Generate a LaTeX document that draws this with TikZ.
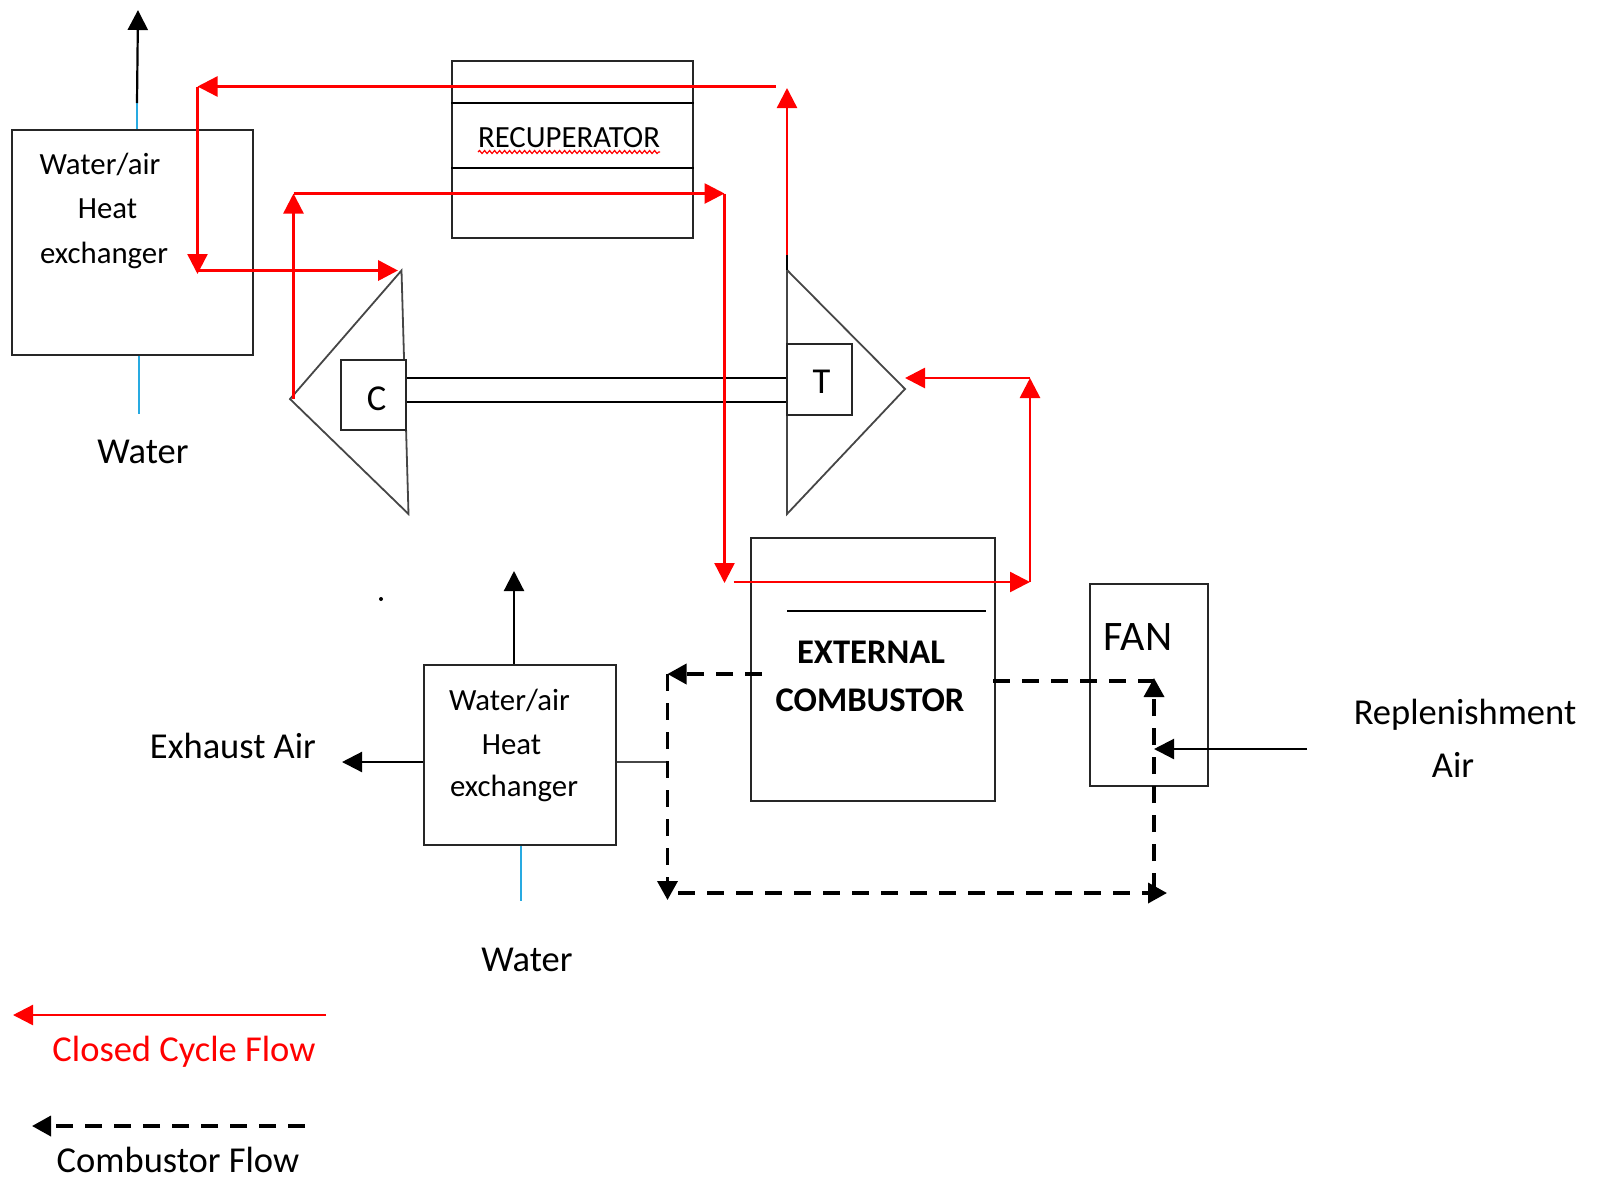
\documentclass[tikz,border=0pt]{standalone}
\usepackage{fontspec}
\setmainfont{Carlito}
\usetikzlibrary{arrows.meta, decorations.pathmorphing}
\definecolor{cycleRed}{RGB}{255, 0, 0}
\definecolor{waterBlue}{RGB}{40, 170, 225}
\definecolor{shaftGray}{RGB}{70, 70, 70}
\tikzstyle{box} = [draw=black!85, line width=2pt, inner sep=0pt, fill=white]
\tikzstyle{label} = [inner sep=0pt, font=\fontsize{30.8}{36}\selectfont]
\tikzstyle{biglabel} = [inner sep=0pt, font=\fontsize{36.5}{42}\selectfont]
\tikzstyle{boldlabel} = [inner sep=0pt, font=\fontsize{34.6}{40}\selectfont\bfseries]
\tikzstyle{redflow} = [line width=2.4pt, cycleRed, -{Triangle[length=20pt,width=20pt]}]
\tikzstyle{dashflow} = [line width=3.6pt, black, dash pattern=on 17pt off 12pt, -{Triangle[length=19pt,width=20pt]}]
\tikzstyle{blackflow} = [line width=2.2pt, black, -{Triangle[length=20pt,width=20pt]}]
\tikzstyle{waterline} = [line width=1.8pt, waterBlue]
\tikzstyle{plainline} = [line width=1.8pt, shaftGray]

\begin{document}
\begin{tikzpicture}[x=1pt, y=-1pt]
\useasboundingbox (0,0) rectangle (1598,1179);

% Machines
\coordinate (compInlet) at (401.5,270.5);
\coordinate (compNose) at (290,399);
\coordinate (compFoot) at (408.5,514);
\coordinate (turbTop) at (787,270);
\coordinate (turbNose) at (905,389);
\coordinate (turbFoot) at (787,514);
\draw[plainline] (compInlet) -- (compNose) -- (compFoot) -- cycle;
\draw[plainline] (turbTop) -- (turbNose) -- (turbFoot) -- cycle;
\node[box, minimum width=65pt, minimum height=70pt] (compBox) at (373.5,395) {};
\node[biglabel] (compLabel) at (376.5,399) {C};
\node[box, minimum width=65pt, minimum height=71pt] (turbBox) at (819.5,379.5) {};
\node[biglabel] (turbLabel) at (821.5,382) {T};
\draw[line width=2pt] (compBox.east |- 0,377.5) -- (turbBox.west |- 0,377.5);
\draw[line width=2pt] (compBox.east |- 0,402) -- (turbBox.west |- 0,402);

% Boxes
\node[box, minimum width=240.5pt, minimum height=224.5pt] (hxTop) at (132.25,242.25) {};
\node[label] (hxTopA) at (100,164) {Water/air};
\node[label] (hxTopB) at (107.5,209) {Heat};
\node[label] (hxTopC) at (104,255) {exchanger};
\node[box, minimum width=240.5pt, minimum height=177.5pt] (recup) at (572.25,149.25) {};
\draw[line width=2pt] (recup.west |- 0,103) -- (recup.east |- 0,103);
\draw[line width=2pt] (recup.west |- 0,168) -- (recup.east |- 0,168);
\node[label] (recupLabel) at (569,137.5) {RECUPERATOR};
\draw[cycleRed, line width=1.2pt, decorate, decoration={snake, segment length=5pt, amplitude=1.5pt}] (478,152) -- (660,152);
\node[box, minimum width=244pt, minimum height=263pt] (combustor) at (873,669.5) {};
\draw[line width=1.8pt] (787,611) -- (986,611);
\node[boldlabel] (combA) at (871,652) {EXTERNAL};
\node[boldlabel] (combB) at (870,700) {COMBUSTOR};
\node[box, minimum width=117.5pt, minimum height=202pt] (fan) at (1148.75,685) {};
\node[font=\fontsize{42}{48}\selectfont, inner sep=0pt] (fanLabel) at (1138,637) {FAN};
\node[box, minimum width=191.5pt, minimum height=180.5pt] (hxLow) at (519.75,754.75) {};
\node[label] (hxLowA) at (509.5,700) {Water/air};
\node[label] (hxLowB) at (511.5,745) {Heat};
\node[label] (hxLowC) at (514,788.5) {exchanger};

% Labels
\node[biglabel] (waterTop) at (143,452) {Water};
\node[biglabel] (waterLow) at (527,960) {Water};
\node[biglabel] (exhaust) at (233,746) {Exhaust Air};
\node[biglabel] (replenA) at (1465,715) {Replenishment};
\node[biglabel] (replenB) at (1453,765) {Air};
\node[biglabel, text=cycleRed] (legendRed) at (184,1052) {Closed Cycle Flow};
\node[biglabel] (legendDash) at (178,1160) {Combustor Flow};
\fill (381,599) circle (2pt);

% Water and air lines
\coordinate (topStub) at (137,103);
\coordinate (topTip) at (138,10);
\coordinate (lowStart) at (514,664);
\coordinate (lowTip) at (514,571);
\coordinate (exhaustTip) at (342,762);
\coordinate (airStart) at (1307,749);
\coordinate (airTip) at (1154,749);
\coordinate (lowRight) at (667,762);
\coordinate (waterTopEnd) at (139,414);
\coordinate (waterLowEnd) at (521,901);
\draw[waterline] (hxTop.north -| topStub) -- (topStub);
\draw[blackflow] (topStub) -- (topTip);
\draw[waterline] (hxTop.south -| waterTopEnd) -- (waterTopEnd);
\draw[waterline] (hxLow.south -| waterLowEnd) -- (waterLowEnd);
\draw[blackflow] (lowStart) -- (lowTip);
\draw[blackflow] (hxLow.west |- exhaustTip) -- (exhaustTip);
\draw[blackflow] (airStart) -- (airTip);
\draw[plainline] (hxLow.east |- lowRight) -- (lowRight);

% Closed cycle
\coordinate (redTopRight) at (776,86.5);
\coordinate (redTopLeft) at (197.5,86.5);
\coordinate (redDownTip) at (197.5,274);
\coordinate (redElbow) at (197.5,270.5);
\coordinate (redInletTip) at (398,270.5);
\coordinate (redMidLeft) at (293.5,193.5);
\coordinate (redMidRight) at (724.5,193.5);
\coordinate (redCombTip) at (724.5,583);
\coordinate (redCombStart) at (733.5,582);
\coordinate (redCombEnd) at (1030,582);
\coordinate (redRiseTop) at (1030,378);
\coordinate (turbStub) at (787,255);
\coordinate (turbRedTip) at (787,88);
\draw[redflow] (redTopRight) -- (redTopLeft);
\draw[redflow] (redTopLeft) -- (redDownTip);
\draw[redflow, line width=3.6pt] (redElbow) -- (redInletTip);
\draw[redflow] (compNose -| redMidLeft) -- (redMidLeft);
\draw[redflow, line width=2.8pt] (redMidLeft) -- (redMidRight);
\draw[redflow] (redMidRight) -- (redCombTip);
\draw[redflow] (redCombStart) -- (redCombEnd);
\draw[redflow, line width=2.8pt] (redCombEnd) -- (redRiseTop);
\draw[redflow, line width=2.8pt] (redRiseTop) -- (redRiseTop -| turbNose);
\draw[redflow] (turbStub) -- (turbRedTip);
\draw[line width=1.8pt] (turbTop) -- (turbStub);

% Combustor flow
\coordinate (dashLeftStart) at (762,674);
\coordinate (dashLeftCorner) at (667.5,674);
\coordinate (dashRightStart) at (993,681);
\coordinate (dashRightCorner) at (1154,681);
\coordinate (dashLowLeft) at (667.5,900);
\coordinate (dashLowStart) at (678,893);
\coordinate (dashLowRight) at (1167,893);
\coordinate (dashFanLow) at (1154,890);
\coordinate (dashFanTip) at (1154,678);
\draw[dashflow] (dashLeftStart) -- (dashLeftCorner);
\draw[dashflow] (dashLeftCorner) -- (dashLowLeft);
\draw[dashflow] (dashLowStart) -- (dashLowRight);
\draw[dashflow] (dashFanLow) -- (dashFanTip);
\draw[line width=3.6pt, dash pattern=on 17pt off 12pt] (dashRightStart) -- (dashRightCorner);

% Legend
\coordinate (legendRedStart) at (326,1015);
\coordinate (legendRedTip) at (13,1015);
\coordinate (legendDashStart) at (305,1126);
\coordinate (legendDashTip) at (32,1126);
\draw[redflow] (legendRedStart) -- (legendRedTip);
\draw[dashflow] (legendDashStart) -- (legendDashTip);
\end{tikzpicture}
\end{document}
